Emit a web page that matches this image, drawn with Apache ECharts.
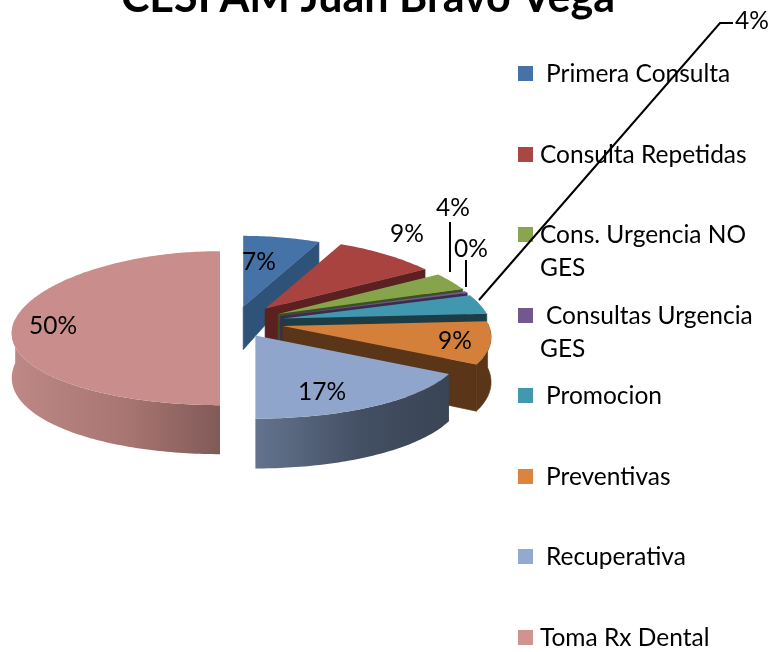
<!DOCTYPE html>
<html>
<head>
<meta charset="utf-8">
<style>html,body{margin:0;padding:0;background:#fff}#c{width:772px;height:652px}</style>
<script src="https://cdn.jsdelivr.net/npm/echarts@6/dist/echarts.min.js"></script>
</head>
<body>
<div id="c"></div>
<script>
// ---- data ----
const titleText = 'CESFAM Juan Bravo Vega';
const categories = ['Primera Consulta','Consulta Repetidas','Cons. Urgencia NO GES','Consultas Urgencia GES','Promocion','Preventivas','Recuperativa','Toma Rx Dental'];
const values = [7, 9, 3.6, 0.4, 4, 9, 17, 50];

// ---- style / layout (not data) ----
const topColors  = ['#4572a7','#a8433f','#86a44b','#71588f','#4097ae','#d5803a','#8fa5cc','#c98e8b'];
const sideColors = ['#2f5279','#5a2120','#3e5020','#3b2b50','#1c3c46','#5a3518','#3d4859','#a87571'];
const legendColors = ['#4572a7','#aa4643','#89a54e','#71588f','#4198af','#db843d','#93a9cf','#d19392'];
const wallGradients = {
  6: ['#64738e','#434f63','#394454'],
  7: ['#bd8885','#a87572','#815a58']
};
const explode = [42,47,49,49,50,50,42,14];
const pieCx = 234, pieCy = 322, rx = 206, ry = 77, kx = 0.15, ky = 0.08;
const labelPos = [[259,262],[407,234],[453,208],[471,249],[752,21],[455,341],[322,392],[53,326]];
const leaders = [null,null,[[450,272],[450,222]],[[466,287],[466,260]],[[479,300],[720,23],[733,23]],null,null,null];
const legendRows = [
  {lines:['Primera Consulta'], y:73, x:546},
  {lines:['Consulta Repetidas'], y:154, x:540},
  {lines:['Cons. Urgencia NO','GES'], y:234, x:540},
  {lines:['Consultas Urgencia','GES'], y:315, x:546, x2:540},
  {lines:['Promocion'], y:395, x:546},
  {lines:['Preventivas'], y:476, x:546},
  {lines:['Recuperativa'], y:556, x:546},
  {lines:['Toma Rx Dental'], y:637, x:540}
];
const FONT = 'Lato, "Open Sans", sans-serif';

const total = values.reduce((a,b)=>a+b,0);
let acc = 0;
const spans = values.map(v => { const s = acc/total*360; acc += v; return [s, acc/total*360]; });
const rad = d => d*Math.PI/180;

function centerOf(i){
  const mid = rad((spans[i][0]+spans[i][1])/2);
  return [pieCx + explode[i]*Math.sin(mid), pieCy - explode[i]*Math.cos(mid)*ry/rx];
}
function rim(c, deg){
  const t = rad(deg), co = Math.cos(t);
  return [c[0] + rx*Math.sin(t)*(1-kx*co), c[1] - ry*co*(1-ky*co)];
}
function arcPts(c, a, b){
  const n = Math.max(2, Math.ceil(Math.abs(b-a)));
  const p = [];
  for(let j=0;j<=n;j++) p.push(rim(c, a+(b-a)*j/n));
  return p;
}
// the side wall looks shallower towards the far edge of the pie
function depthAt(y){
  return y < 305 ? Math.max(18, 43-(305-y)*0.32) : Math.min(50, 43+(y-305)*0.06);
}
const down = p => [p[0], p[1]+depthAt(p[1])];

function renderSlice(params, api){
  const i = api.value(1);
  const [a,b] = spans[i];
  const c = centerOf(i);
  const kids = [];
  // radial end face
  if(b < 180){
    const e = rim(c,b);
    kids.push({type:'polygon',shape:{points:[c,e,down(e),down(c)]},style:{fill:sideColors[i],stroke:sideColors[i],lineWidth:0.6}});
  }
  // outer wall (front-facing part)
  const w0 = Math.max(a,88), w1 = Math.min(b,272);
  if(w1 > w0){
    const arc = arcPts(c,w0,w1);
    const pts = arc.concat(arc.slice().reverse().map(down));
    let fill = sideColors[i], stroke = sideColors[i], lw = 0.6;
    if(wallGradients[i]){
      const g = wallGradients[i];
      fill = new echarts.graphic.LinearGradient(0,0,1,0,[{offset:0,color:g[0]},{offset:0.55,color:g[1]},{offset:1,color:g[2]}]);
      stroke = null; lw = 0;
    }
    kids.push({type:'polygon',shape:{points:pts},style:{fill,stroke,lineWidth:lw}});
  }
  // top face
  kids.push({type:'polygon',shape:{points:[c].concat(arcPts(c,a,b))},style:{fill:topColors[i]}});
  return {type:'group',children:kids};
}

function pctText(v){ return Math.round(v/total*100)+'%'; }

function renderLabel(params, api){
  const i = api.value(1);
  const kids = [];
  if(leaders[i]) kids.push({type:'polyline',shape:{points:leaders[i]},style:{stroke:'#000',lineWidth:2,fill:null}});
  kids.push({type:'text',x:labelPos[i][0],y:labelPos[i][1],style:{text:pctText(values[i]),font:'24.5px '+FONT,fill:'#000',align:'center',verticalAlign:'middle'}});
  return {type:'group',children:kids};
}

const legendGraphics = [];
legendRows.forEach((r,i)=>{
  legendGraphics.push({type:'rect',left:518,top:r.y-7,shape:{width:15,height:15},style:{fill:legendColors[i]},z:3});
  r.lines.forEach((t,j)=>{
    legendGraphics.push({type:'text',x:j===0?r.x:(r.x2||r.x),y:r.y+1+j*33,style:{text:t,font:'24.5px '+FONT,fill:'#000',verticalAlign:'middle',align:'left'},z:3});
  });
});

const rowData = values.map((v,i)=>[v,i]);
const chart = echarts.init(document.getElementById('c'),null,{renderer:'canvas',width:772,height:652});
chart.setOption({
  animation:false,
  backgroundColor:'#fff',
  title:{text:titleText,left:363,top:-28,textAlign:'center',textStyle:{fontFamily:FONT,fontWeight:'bold',fontSize:43,color:'#000'}},
  graphic:legendGraphics,
  series:[
    {type:'custom',coordinateSystem:'none',renderItem:renderSlice,data:rowData,silent:true,z:2},
    {type:'custom',coordinateSystem:'none',renderItem:renderLabel,data:rowData,silent:true,z:5}
  ]
});
</script>
</body>
</html>
